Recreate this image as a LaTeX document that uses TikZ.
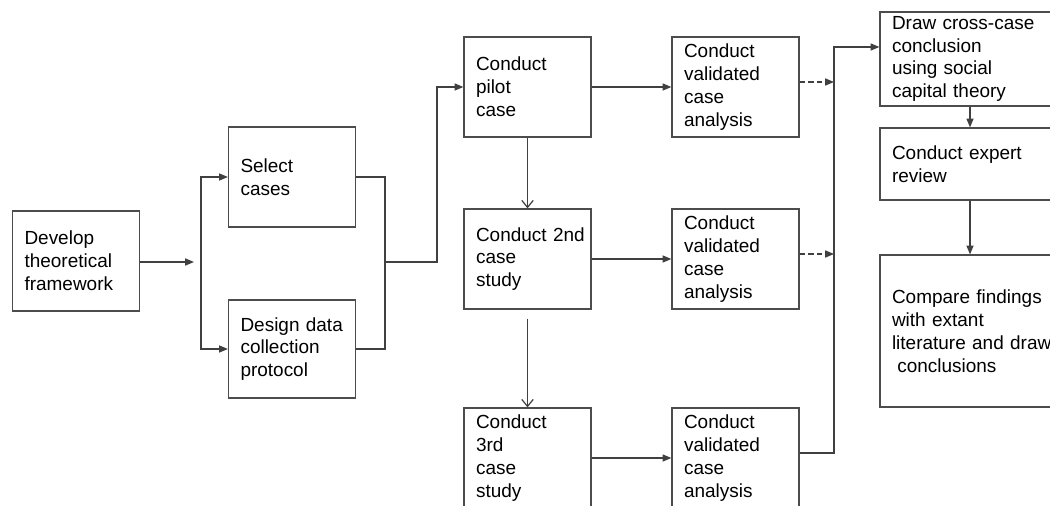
\documentclass[tikz,border=0pt]{standalone}
\usepackage{fontspec}
\setmainfont{Liberation Sans}
\usetikzlibrary{arrows.meta}

\begin{document}
\begin{tikzpicture}[
    x = 0.02cm, y = -0.02cm,
    every node/.style = { font = \fontsize{10.8}{13}\selectfont },
    box/.style = {
      draw = black!70, line width = 0.7pt, align = left,
      text width = 2.06cm, inner xsep = 0.24cm, inner ysep = 0pt,
      minimum height = 2cm
    },
    widebox/.style = { box, text width = 3.3cm },
    conn/.style = { draw = black!75, line width = 0.7pt },
    arr/.style = { conn, -{Triangle[length=5pt, width=4pt]} },
    openarr/.style = { conn, -{Straight Barb[length=4pt, width=6.5pt]} },
    dasharr/.style = { arr, dash pattern = on 3pt off 2pt }
  ]
  \useasboundingbox (0, 0) rectangle (1050, 506);
  \clip (0, 0) rectangle (1050, 506);

  \node[box] (dev) at (76, 261) {Develop\\ theoretical\\ framework};
  \node[box] (sel) at (292, 177) {Select\\ cases};
  \node[box, minimum height = 1.96cm] (des) at (292, 349)
    {\mbox{Design data}\\ collection\\ protocol};
  \node[box] (pilot) at (527.5, 87) {Conduct\\ pilot\\ case};
  \node[box] (case2) at (527.5, 259) {\mbox{Conduct 2nd}\\ case\\ study};
  \node[box] (case3) at (527.5, 458) {Conduct\\ 3rd\\ case\\ study};
  \node[box] (val1) at (735.5, 87) {Conduct\\ validated\\ case\\ analysis};
  \node[box] (val2) at (735.5, 259) {Conduct\\ validated\\ case\\ analysis};
  \node[box] (val3) at (735.5, 458) {Conduct\\ validated\\ case\\ analysis};
  \node[widebox, minimum height = 1.88cm] (xcase) at (974.5, 59)
    {Draw cross-case\\ conclusion\\ using social\\ capital theory};
  \node[widebox, minimum height = 1.44cm] (expert) at (974.5, 164)
    {Conduct expert\\ review};
  \node[widebox, minimum height = 3.04cm] (compare) at (974.5, 331)
    {Compare findings\\ with extant\\ literature and draw\\
     \hspace*{3pt}conclusions};

  \coordinate (in1) at (194, 262);
  \coordinate (forkL) at (201, 262);
  \coordinate (joinR) at (385, 262);
  \coordinate (rise) at (437, 262);
  \coordinate (bus1) at (834, 82);
  \coordinate (bus2) at (834, 254);
  \coordinate (busBot) at (834, 453);
  \coordinate (busTop) at (834, 47);
  \coordinate (spine) at (970, 0);

  \draw[arr] (dev.east |- in1) -- (in1);
  \draw[arr] (forkL) |- (sel);
  \draw[arr] (forkL) |- (des);
  \draw[conn] (sel) -| (joinR) |- (des);
  \draw[arr] (joinR) -- (rise) |- (pilot);
  \draw[arr] (pilot) -- (val1);
  \draw[arr] (case2) -- (val2);
  \draw[arr] (case3) -- (val3);
  \draw[openarr] (pilot) -- (case2);
  \draw[openarr, shorten <= 0.18cm] (case2) -- (case3);
  \draw[dasharr] (val1.east |- bus1) -- (bus1);
  \draw[dasharr] (val2.east |- bus2) -- (bus2);
  \draw[arr] (val3.east |- busBot) -- (busBot) -- (busTop)
    -- (xcase.west |- busTop);
  \draw[arr] (xcase.south -| spine) -- (expert.north -| spine);
  \draw[arr] (expert.south -| spine) -- (compare.north -| spine);
\end{tikzpicture}
\end{document}
